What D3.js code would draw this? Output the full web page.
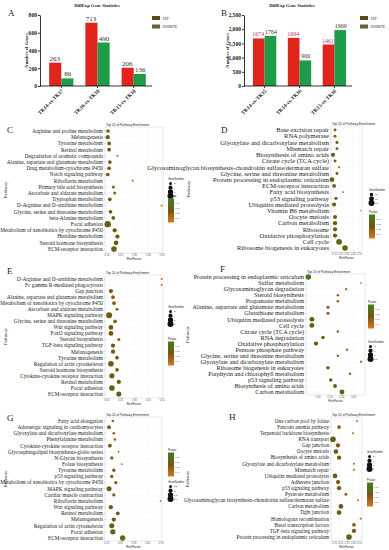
<!DOCTYPE html>
<html>
<head>
<meta charset="utf-8">
<script src="https://cdn.jsdelivr.net/npm/d3@7"></script>
<style>
body { margin: 0; background: #fff; }
svg { display: block; }
text { font-family: "Liberation Serif", "DejaVu Serif", serif; fill: #1a1a1a; }
</style>
</head>
<body>
<div id="fig"></div>
<script>
// ---- bar chart data (A, B) ----
var aGroups = ["TK14-vs-TK17", "TK16-vs-TK18", "TK15-vs-TK18"];
var aUp = [263, 713, 206];
var aDown = [86, 490, 136];
var aTicks = [0, 200, 400, 600, 800];

var bGroups = ["TK14-vs-TK15", "TK14-vs-TK16", "TK15-vs-TK16"];
var bUp = [1674, 1694, 1461];
var bDown = [1764, 900, 1969];
var bTicks = [0, 500, 1000, 1500, 2000, 2500];

// ---- pathway enrichment data (C - H) ----
var cNames = ["Arginine and proline metabolism", "Melanogenesis", "Tyrosine metabolism", "Retinol metabolism",
  "Degradation of aromatic compounds", "Alanine, aspartate and glutamate metabolism", "Drug metabolism-cytochrome P450",
  "Notch signaling pathway", "Riboflavin metabolism", "Primary bile acid biosynthesis", "Ascorbate and aldarate metabolism",
  "Tryptophan metabolism", "D-Arginine and D-ornithine metabolism", "Glycine, serine and threonine metabolism",
  "beta-Alanine metabolism", "Focal adhesion", "Metabolism of xenobiotics by cytochrome P450", "Histidine metabolism",
  "Steroid hormone biosynthesis", "ECM-receptor interaction"];
var cRich = [0.112, 0.11, 0.12, 0.12, 0.18, 0.125, 0.12, 0.11, 0.29, 0.15, 0.16, 0.125, 0.5, 0.13, 0.15, 0.11, 0.16, 0.18, 0.17, 0.155];
var cGenes = [3, 4, 3, 3, 1, 3, 3, 3, 1, 2, 2, 3, 1, 3, 3, 9, 4, 4, 5, 7];
var cPval = [0.03, 0.012, 0.025, 0.025, 0.045, 0.026, 0.025, 0.027, 0.046, 0.03, 0.03, 0.026, 0.047, 0.025, 0.024, 0.022, 0.022, 0.02, 0.02, 0.018];
var cGeneKeys = [2, 4, 6, 8];

var dNames = ["Base excision repair", "RNA polymerase", "Glyoxylate and dicarboxylate metabolism", "Mismatch repair",
  "Biosynthesis of amino acids", "Citrate cycle (TCA cycle)",
  "Glycosaminoglycan biosynthesis-chondroitin sulfate/dermatan sulfate", "Glycine, serine and threonine metabolism",
  "Protein processing in endoplasmic reticulum", "ECM-receptor interaction", "Fatty acid biosynthesis",
  "p53 signaling pathway", "Ubiquitin mediated proteolysis", "Vitamin B6 metabolism", "Oocyte meiosis",
  "Carbon metabolism", "Ribosome", "Oxidative phosphorylation", "Cell cycle", "Ribosome biogenesis in eukaryotes"];
var dRich = [0.115, 0.115, 0.147, 0.147, 0.082, 0.115, 0.18, 0.147, 0.066, 0.1, 0.245, 0.13, 0.1, 0.53, 0.115, 0.115, 0.115, 0.115, 0.18, 0.276];
var dGenes = [7, 7, 8, 7, 14, 7, 4, 7, 18, 12, 3, 9, 14, 2, 14, 15, 15, 15, 28, 25];
var dPval = [0.03, 0.03, 0.028, 0.028, 0.02, 0.028, 0.035, 0.028, 0.018, 0.024, 0.04, 0.026, 0.022, 0.047, 0.022, 0.022, 0.022, 0.022, 0.016, 0.018];
var dGeneKeys = [10, 20, 30];

var eNames = ["D-Arginine and D-ornithine metabolism", "Fc gamma R-mediated phagocytosis", "Gap junction",
  "Alanine, aspartate and glutamate metabolism", "Metabolism of xenobiotics by cytochrome P450",
  "Ascorbate and aldarate metabolism", "MAPK signaling pathway", "Glycine, serine and threonine metabolism",
  "Wnt signaling pathway", "FoxO signaling pathway", "Steroid biosynthesis", "TGF-beta signaling pathway",
  "Melanogenesis", "Tyrosine metabolism", "Regulation of actin cytoskeleton", "Steroid hormone biosynthesis",
  "Cytokine-cytokine receptor interaction", "Retinol metabolism", "Focal adhesion", "ECM-receptor interaction"];
var eRich = [0.5, 0.5, 0.133, 0.148, 0.155, 0.177, 0.12, 0.163, 0.133, 0.133, 0.19, 0.148, 0.148, 0.177, 0.133, 0.177, 0.14, 0.19, 0.14, 0.19];
var eGenes = [1, 1, 4, 3, 3, 2, 8, 3, 5, 5, 2, 4, 4, 3, 7, 3, 6, 4, 7, 6];
var ePval = [0.047, 0.047, 0.028, 0.03, 0.03, 0.033, 0.022, 0.03, 0.026, 0.026, 0.032, 0.026, 0.026, 0.028, 0.022, 0.028, 0.022, 0.024, 0.02, 0.018];
var eGeneKeys = [2, 4, 6, 8];

var fNames = ["Protein processing in endoplasmic reticulum", "Sulfur metabolism", "Glycosaminoglycan degradation",
  "Steroid biosynthesis", "Propanoate metabolism", "Alanine, aspartate and glutamate metabolism",
  "Glutathione metabolism", "Ubiquitin mediated proteolysis", "Cell cycle", "Citrate cycle (TCA cycle)",
  "RNA degradation", "Oxidative phosphorylation", "Pentose phosphate pathway",
  "Glycine, serine and threonine metabolism", "Glyoxylate and dicarboxylate metabolism",
  "Ribosome biogenesis in eukaryotes", "Porphyrin and chlorophyll metabolism", "p53 signaling pathway",
  "Biosynthesis of amino acids", "Carbon metabolism"];
var fRich = [0.02, 0.466, 0.34, 0.27, 0.27, 0.186, 0.186, 0.05, 0.05, 0.27, 0.144, 0.085, 0.347, 0.27, 0.466, 0.186, 0.373, 0.21, 0.246, 0.305];
var fGenes = [10, 1, 2, 2, 2, 3, 3, 8, 8, 2, 4, 6, 2, 2, 2, 4, 2, 4, 5, 8];
var fPval = [0.006, 0.046, 0.036, 0.032, 0.032, 0.028, 0.028, 0.02, 0.02, 0.032, 0.026, 0.022, 0.035, 0.032, 0.044, 0.026, 0.036, 0.026, 0.024, 0.018];
var fGeneKeys = [3, 6, 9, 12];

var gNames = ["Fatty acid elongation", "Adrenergic signaling in cardiomyocytes", "Glyoxylate and dicarboxylate metabolism",
  "Phenylalanine metabolism", "Cytokine-cytokine receptor interaction", "Glycosphingolipid biosynthesis-globo series",
  "N-Glycan biosynthesis", "Folate biosynthesis", "Tyrosine metabolism", "p53 signaling pathway",
  "Metabolism of xenobiotics by cytochrome P450", "MAPK signaling pathway", "Cardiac muscle contraction",
  "Riboflavin metabolism", "Wnt signaling pathway", "Retinol metabolism", "Melanogenesis",
  "Regulation of actin cytoskeleton", "Focal adhesion", "ECM-receptor interaction"];
var gRich = [0.148, 0.12, 0.155, 0.163, 0.126, 0.19, 0.14, 0.213, 0.155, 0.14, 0.17, 0.12, 0.155, 0.5, 0.133, 0.184, 0.155, 0.14, 0.148, 0.22];
var gGenes = [2, 4, 2, 2, 4, 1, 3, 1, 3, 3, 3, 7, 3, 1, 5, 4, 5, 7, 8, 8];
var gPval = [0.036, 0.026, 0.036, 0.036, 0.026, 0.042, 0.03, 0.042, 0.028, 0.028, 0.028, 0.02, 0.028, 0.047, 0.024, 0.022, 0.022, 0.02, 0.018, 0.016];
var gGeneKeys = [2.5, 5, 7.5, 10];

var hNames = ["One carbon pool by folate", "Fanconi anemia pathway", "Terpenoid backbone biosynthesis", "RNA transport",
  "Gap junction", "Oocyte meiosis", "Biosynthesis of amino acids", "Glyoxylate and dicarboxylate metabolism",
  "Mismatch repair", "Ubiquitin mediated proteolysis", "Adherens junction", "p53 signaling pathway",
  "Pyruvate metabolism", "Glycosaminoglycan biosynthesis-chondroitin sulfate/dermatan sulfate", "Carbon metabolism",
  "Tight junction", "Homologous recombination", "Basal transcription factors", "TGF-beta signaling pathway",
  "Protein processing in endoplasmic reticulum"];
var hRich = [0.47, 0.18, 0.405, 0.082, 0.163, 0.13, 0.18, 0.42, 0.42, 0.115, 0.163, 0.18, 0.29, 0.485, 0.21, 0.18, 0.53, 0.42, 0.42, 0.34];
var hGenes = [1, 3, 1, 7, 4, 5, 4, 1, 1, 5, 4, 4, 2, 1, 5, 5, 1, 3, 4, 7];
var hPval = [0.045, 0.03, 0.042, 0.02, 0.026, 0.024, 0.026, 0.044, 0.044, 0.022, 0.026, 0.026, 0.034, 0.046, 0.022, 0.022, 0.047, 0.03, 0.026, 0.018];
var hGeneKeys = [2, 4, 6, 8];

var W = 389, H = 550;
var svg = d3.select("#fig").append("svg").attr("width", W).attr("height", H);

// colour for p value (green low -> olive -> orange high)
var pColor = d3.scaleLinear().domain([0, 0.025, 0.05]).range(["#3f7f1e", "#735512", "#d97a1e"]);

var defs = svg.append("defs");
var grad = defs.append("linearGradient").attr("id", "pgrad").attr("x1", 0).attr("y1", 0).attr("x2", 0).attr("y2", 1);
grad.append("stop").attr("offset", "0%").attr("stop-color", pColor(0));
grad.append("stop").attr("offset", "50%").attr("stop-color", pColor(0.025));
grad.append("stop").attr("offset", "100%").attr("stop-color", pColor(0.05));

function barChart(lay, groups, up, down, ticks) {
  var g = svg.append("g");
  var x = d3.scaleBand().domain(groups).range([lay.left + 3, lay.right]).paddingInner(0.33).paddingOuter(0.17);
  var y = d3.scaleLinear().domain([0, ticks[ticks.length - 1]]).range([lay.bottom, lay.top]);
  var half = x.bandwidth() / 2;

  g.append("text").attr("x", lay.titleX).attr("y", 7).attr("text-anchor", "middle")
    .style("font-size", "4.6px").style("font-weight", "bold").text("DiffExp Gene Statistics");
  g.append("text").attr("x", lay.letterX).attr("y", 16).style("font-size", "9px").text(lay.letter);

  g.selectAll(".up").data(groups).enter().append("rect")
    .attr("x", d => x(d)).attr("y", (d, i) => y(up[i]))
    .attr("width", half).attr("height", (d, i) => lay.bottom - y(up[i]))
    .attr("fill", "#e1251c");
  g.selectAll(".down").data(groups).enter().append("rect")
    .attr("x", d => x(d) + half).attr("y", (d, i) => y(down[i]))
    .attr("width", half).attr("height", (d, i) => lay.bottom - y(down[i]))
    .attr("fill", "#1f9c49");

  // value labels
  g.selectAll(".uplab").data(groups).enter().append("text")
    .attr("x", d => x(d) + half / 2 - 0.5).attr("y", (d, i) => y(up[i]) - 2)
    .attr("text-anchor", "middle").style("font-size", lay.valSize)
    .style("fill", lay.upLabel).text((d, i) => up[i]);
  g.selectAll(".downlab").data(groups).enter().append("text")
    .attr("x", d => x(d) + half * 1.5 + 0.5).attr("y", (d, i) => y(down[i]) - 2)
    .attr("text-anchor", "middle").style("font-size", lay.valSize)
    .style("fill", "#333").text((d, i) => down[i]);

  // y axis
  var ya = g.append("g").attr("transform", "translate(" + lay.left + ",0)")
    .call(d3.axisLeft(y).tickValues(ticks).tickSize(2).tickPadding(1).tickSizeOuter(0));
  ya.selectAll("text").style("font-size", "5.6px").style("font-weight", "bold").style("font-family", "Liberation Serif");
  ya.selectAll("line,path").attr("stroke", "#000").attr("stroke-width", 0.8);

  // x axis
  g.append("line").attr("x1", lay.left).attr("x2", lay.right).attr("y1", lay.bottom).attr("y2", lay.bottom)
    .attr("stroke", "#000").attr("stroke-width", 0.8);
  g.selectAll(".xt").data(groups).enter().append("line")
    .attr("x1", d => x(d) + half).attr("x2", d => x(d) + half)
    .attr("y1", lay.bottom).attr("y2", lay.bottom + 2).attr("stroke", "#000").attr("stroke-width", 0.8);
  g.selectAll(".xl").data(groups).enter().append("text")
    .attr("transform", d => "translate(" + (x(d) + half + 1) + "," + (lay.bottom + 4) + ") rotate(-45)")
    .attr("text-anchor", "end").attr("dy", "0.35em")
    .style("font-size", "5.2px").style("font-weight", "bold").text(d => d);

  g.append("text").attr("transform", "translate(" + lay.yLabX + "," + ((lay.top + lay.bottom) / 2) + ") rotate(-90)")
    .attr("text-anchor", "middle").style("font-size", "4.6px").style("font-weight", "bold").text("Number of Genes");

  // legend
  var leg = [["UP", "#5b4a17"], ["DOWN", "#6f5e3d"]];
  leg.forEach(function (l, i) {
    g.append("rect").attr("x", lay.legX).attr("y", 16 + i * 8.5).attr("width", 8).attr("height", 4).attr("fill", l[1]);
    g.append("text").attr("x", lay.legX + 11).attr("y", 18 + i * 8.5).attr("dy", "0.35em")
      .style("font-size", "4.4px").text(l[0]);
  });
}

function dotChart(lay, names, rich, genes, pval, geneKeys) {
  var g = svg.append("g");
  var x = d3.scaleLinear().domain(lay.dom).range([lay.x0, lay.x1]);
  var y = d3.scalePoint().domain(names).range([lay.r0, lay.r1]);
  var r = d3.scaleSqrt().domain([0, d3.max(geneKeys)]).range([0, 3]);

  g.append("text").attr("x", lay.lx).attr("y", lay.ly).style("font-size", "9px").text(lay.letter);
  g.append("text").attr("x", lay.x0 + 1).attr("y", lay.y0 - 1.5)
    .style("font-size", "3.2px").style("font-family", "Liberation Sans").text("Top 20 of Pathway Enrichment");

  g.append("rect").attr("x", lay.x0).attr("y", lay.y0).attr("width", lay.x1 - lay.x0).attr("height", lay.y1 - lay.y0)
    .attr("fill", "#fff").attr("stroke", "#c8c8c8").attr("stroke-width", 0.4);
  g.selectAll(".gx").data(lay.ticks).enter().append("line")
    .attr("x1", d => x(d)).attr("x2", d => x(d)).attr("y1", lay.y0).attr("y2", lay.y1)
    .attr("stroke", "#ececec").attr("stroke-width", 0.4).attr("stroke-dasharray", "0.8,0.8");
  g.selectAll(".gy").data(names).enter().append("line")
    .attr("x1", lay.x0).attr("x2", lay.x1).attr("y1", d => y(d)).attr("y2", d => y(d))
    .attr("stroke", "#f0eaea").attr("stroke-width", 0.4).attr("stroke-dasharray", "0.8,0.8");

  // x axis ticks
  var xa = g.append("g").attr("transform", "translate(0," + lay.y1 + ")")
    .call(d3.axisBottom(x).tickValues(lay.ticks).tickSize(1).tickPadding(0.5).tickFormat(d3.format(".2f")));
  xa.select(".domain").remove();
  xa.selectAll("line").attr("stroke", "#888").attr("stroke-width", 0.3);
  xa.selectAll("text").style("font-size", "2.6px").style("font-family", "Liberation Sans").style("fill", "#666");
  g.append("text").attr("x", (lay.x0 + lay.x1) / 2).attr("y", lay.y1 + 7).attr("text-anchor", "middle")
    .style("font-size", "3px").style("font-family", "Liberation Sans").text("RichFactor");

  // pathway labels
  g.selectAll(".lab").data(names).enter().append("text")
    .attr("x", lay.x0 - 2).attr("y", d => y(d)).attr("dy", "0.35em").attr("text-anchor", "end")
    .style("font-size", lay.fs).text(d => d);
  g.selectAll(".yt").data(names).enter().append("line")
    .attr("x1", lay.x0 - 1).attr("x2", lay.x0).attr("y1", d => y(d)).attr("y2", d => y(d))
    .attr("stroke", "#888").attr("stroke-width", 0.3);

  g.append("text").attr("transform", "translate(" + lay.px + "," + ((lay.y0 + lay.y1) / 2) + ") rotate(-90)")
    .attr("text-anchor", "middle").style("font-size", "5px").text("Pathway");

  // dots
  g.selectAll(".dot").data(names).enter().append("circle")
    .attr("cx", (d, i) => x(rich[i])).attr("cy", d => y(d))
    .attr("r", (d, i) => r(genes[i])).attr("fill", (d, i) => pColor(pval[i]));

  // legends
  var gy = lay.geneY, py = lay.pY;
  g.append("text").attr("x", lay.legX).attr("y", gy).style("font-size", "2.7px")
    .style("font-family", "Liberation Sans").text("GeneNumber");
  geneKeys.forEach(function (k, i) {
    var cy = gy + 3.5 + i * 4.2;
    g.append("circle").attr("cx", lay.legX + 2.5).attr("cy", cy).attr("r", r(k)).attr("fill", "#111");
    g.append("text").attr("x", lay.legX + 6).attr("y", cy).attr("dy", "0.35em").style("font-size", "2.5px")
      .style("font-family", "Liberation Sans").text(k);
  });
  g.append("text").attr("x", lay.legX).attr("y", py).style("font-size", "2.7px")
    .style("font-family", "Liberation Sans").text("Pvalue");
  var barH = 24;
  g.append("rect").attr("x", lay.legX).attr("y", py + 1.5).attr("width", 6).attr("height", barH)
    .attr("fill", "url(#pgrad)");
  var pb = d3.scaleLinear().domain([0, 0.05]).range([py + 1.5, py + 1.5 + barH]);
  [0.01, 0.02, 0.03, 0.04].forEach(function (t) {
    g.append("text").attr("x", lay.legX + 7).attr("y", pb(t)).attr("dy", "0.35em").style("font-size", "2.3px")
      .style("font-family", "Liberation Sans").style("fill", "#444").text(t.toFixed(2));
  });
}

barChart({ letter: "A", letterX: 8, titleX: 97, left: 40, right: 152, top: 15, bottom: 86, yLabX: 28, legX: 152, upLabel: "#333", valSize: "7px" },
  aGroups, aUp, aDown, aTicks);
barChart({ letter: "B", letterX: 221, titleX: 292, left: 244, right: 352, top: 15, bottom: 86, yLabX: 229, legX: 360, upLabel: "#c8336c", valSize: "6px" },
  bGroups, bUp, bDown, bTicks);

var leftDom = [0.09, 0.51], leftTicks = [0.1, 0.2, 0.3, 0.4, 0.5];
var rightDom = [0.05, 0.55], rightTicks = [0.1, 0.2, 0.3, 0.4, 0.5];

dotChart({ letter: "C", lx: 7, ly: 133, x0: 105, x1: 163, y0: 127, y1: 253, r0: 131, r1: 249, dom: leftDom, ticks: leftTicks,
  fs: "5.35px", px: 7, legX: 168, geneY: 180, pY: 197 }, cNames, cRich, cGenes, cPval, cGeneKeys);
dotChart({ letter: "D", lx: 221, ly: 133, x0: 331, x1: 362, y0: 126, y1: 252, r0: 130, r1: 248, dom: rightDom, ticks: rightTicks,
  fs: "6.5px", px: 190, legX: 369, geneY: 191, pY: 213 }, dNames, dRich, dGenes, dPval, dGeneKeys);
dotChart({ letter: "E", lx: 7, ly: 274, x0: 105, x1: 163, y0: 275, y1: 398, r0: 279, r1: 394, dom: leftDom, ticks: leftTicks,
  fs: "5.35px", px: 7, legX: 168, geneY: 308, pY: 340 }, eNames, eRich, eGenes, ePval, eGeneKeys);
dotChart({ letter: "F", lx: 220, ly: 272, x0: 306, x1: 365, y0: 274, y1: 395, r0: 277, r1: 392, dom: [0, 0.5], ticks: [0.1, 0.2, 0.3, 0.4],
  fs: "6.2px", px: 189, legX: 368, geneY: 343, pY: 303 }, fNames, fRich, fGenes, fPval, fGeneKeys);
dotChart({ letter: "G", lx: 7, ly: 421, x0: 105, x1: 162, y0: 417, y1: 541, r0: 421, r1: 538, dom: leftDom, ticks: leftTicks,
  fs: "5.35px", px: 7, legX: 168, geneY: 483, pY: 451 }, gNames, gRich, gGenes, gPval, gGeneKeys);
dotChart({ letter: "H", lx: 229, ly: 420, x0: 331, x1: 362, y0: 417, y1: 541, r0: 421, r1: 537, dom: rightDom, ticks: rightTicks,
  fs: "5.2px", px: 189, legX: 367, geneY: 453, pY: 481 }, hNames, hRich, hGenes, hPval, hGeneKeys);
</script>
</body>
</html>
